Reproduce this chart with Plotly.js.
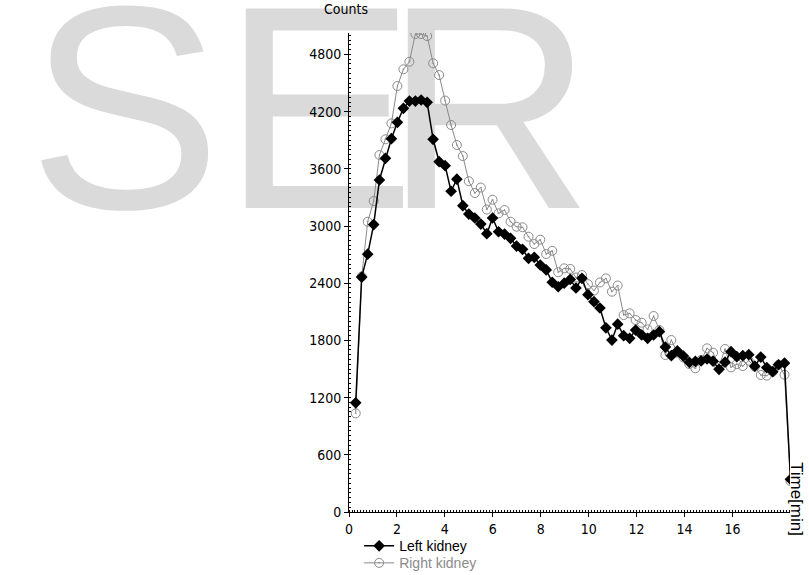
<!DOCTYPE html>
<html>
<head>
<meta charset="utf-8">
<script src="https://cdn.plot.ly/plotly-3.0.1.min.js"></script>
<style>
  html, body { margin: 0; padding: 0; background: #ffffff; }
  #wrap { position: relative; width: 809px; height: 575px; overflow: hidden; }
  .wm { position: absolute; font-family: "Liberation Sans", Arial, sans-serif; font-size: 290px;
        line-height: 290px; color: #dadada; top: -38px; white-space: nowrap; }
  #chart { position: absolute; left: 0; top: 0; width: 809px; height: 575px; }
</style>
</head>
<body>
<div id="wrap">
  <div class="wm" style="left:28px">S</div>
  <div class="wm" style="left:222px">E</div>
  <div class="wm" style="left:384px">R</div>
  <div id="chart"></div>
</div>
<script>
// time of each frame [min]
const timeMin = [0.28,0.53,0.78,1.03,1.27,1.52,1.77,2.02,2.27,2.52,
  2.77,3.01,3.26,3.51,3.76,4.01,4.26,4.50,4.75,5.00,
  5.25,5.50,5.75,5.99,6.24,6.49,6.74,6.99,7.24,7.49,
  7.73,7.98,8.23,8.48,8.73,8.98,9.23,9.47,9.72,9.97,
  10.22,10.47,10.72,10.97,11.21,11.46,11.71,11.96,12.21,12.46,
  12.71,12.95,13.20,13.45,13.70,13.95,14.20,14.45,14.69,14.94,
  15.19,15.44,15.69,15.94,16.18,16.43,16.68,16.93,17.18,17.43,
  17.68,17.92,18.17,18.42];

const leftKidney = [1145,2465,2705,3015,3483,3710,3916,4088,4235,4311,
  4311,4322,4298,3910,3675,3633,3365,3492,3214,3125,
  3084,3021,2920,3084,2940,2916,2871,2790,2756,2661,
  2672,2591,2539,2410,2363,2400,2440,2350,2451,2280,
  2206,2140,1932,1804,1970,1850,1822,1909,1857,1822,
  1857,1892,1730,1640,1690,1636,1570,1580,1585,1605,
  1582,1497,1572,1682,1629,1640,1650,1530,1625,1515,
  1472,1545,1562,343];

const rightKidney = [1035,2470,3045,3262,3745,3910,4077,4469,4644,4724,
  5014,5014,4993,4707,4584,4316,4060,3850,3734,3470,
  3346,3404,3173,3276,3133,3168,3045,2993,2987,2888,
  2811,2857,2706,2740,2515,2556,2550,2460,2486,2390,
  2323,2408,2451,2311,2376,2066,2084,2014,1986,1916,
  2056,1909,1647,1804,1671,1622,1552,1507,1594,1717,
  1671,1531,1710,1517,1552,1531,1587,1524,1437,1430,
  1472,1545,1440,325];

const seriesNames = ['Left kidney', 'Right kidney'];
const yTicks = [0,600,1200,1800,2400,3000,3600,4200,4800];
const xTicks = [0,2,4,6,8,10,12,14,16];

const tickFont = {family: '"Liberation Sans Narrow", "DejaVu Sans Condensed", sans-serif', size: 14, color: '#000'};
const legFont = {family: '"Liberation Sans Narrow", sans-serif', size: 14, color: '#000'};
const timeFont = {family: '"Liberation Sans", Arial, sans-serif', size: 17, color: '#000'};

const traces = [
  {
    x: timeMin, y: rightKidney, type: 'scatter', mode: 'lines+markers',
    name: '<span style="color:#8a8a8a">' + seriesNames[1] + '</span>',
    legend: 'legend2',
    line: {color: '#8a8a8a', width: 1},
    marker: {symbol: 'circle-open-dot', size: 9, color: '#8a8a8a', line: {width: 1, color: '#8a8a8a'}}
  },
  {
    x: timeMin, y: leftKidney, type: 'scatter', mode: 'lines+markers',
    name: seriesNames[0],
    legend: 'legend',
    line: {color: '#000', width: 1.5},
    marker: {symbol: 'diamond', size: 9, color: '#000'}
  }
];

const layout = {
  width: 809, height: 575,
  margin: {l: 349, r: 19, t: 33, b: 63, autoexpand: false},
  paper_bgcolor: 'rgba(0,0,0,0)', plot_bgcolor: 'rgba(0,0,0,0)',
  font: tickFont,
  showlegend: true,
  legend: {x: 0.023, y: -0.0715, xanchor: 'left', yanchor: 'middle',
           font: legFont, bgcolor: 'rgba(0,0,0,0)', itemwidth: 30, borderwidth: 0},
  legend2: {x: 0.023, y: -0.107, xanchor: 'left', yanchor: 'middle',
           font: legFont, bgcolor: 'rgba(0,0,0,0)', itemwidth: 30, borderwidth: 0},
  xaxis: {
    range: [0, 18.4], tickvals: xTicks, ticktext: xTicks.map(String),
    showgrid: false, zeroline: false, showline: true, linecolor: '#000', linewidth: 1,
    ticks: 'outside', ticklen: 4, tickcolor: '#000', tickfont: tickFont,
    minor: {dtick: 0.125, ticks: 'inside', ticklen: 2, tickcolor: '#000', showgrid: false}
  },
  yaxis: {
    range: [0, 5025], tickvals: yTicks, ticktext: yTicks.map(String),
    showgrid: false, zeroline: false, showline: true, linecolor: '#000', linewidth: 1,
    ticks: 'outside', ticklen: 4, tickcolor: '#000', tickfont: tickFont,
    minor: {dtick: 50, ticks: 'inside', ticklen: 2, tickcolor: '#000', showgrid: false}
  },
  annotations: [
    {text: 'Counts', xref: 'paper', yref: 'paper', x: -0.007, y: 1.05, xanchor: 'center', yanchor: 'middle',
     showarrow: false, font: tickFont},
    {text: 'Time[min]', xref: 'paper', yref: 'paper', x: 1.0136, y: 0.0272, xanchor: 'center', yanchor: 'middle',
     textangle: 90, showarrow: false, font: timeFont}
  ]
};

Plotly.newPlot('chart', traces, layout, {displayModeBar: false, staticPlot: true});
</script>
</body>
</html>
